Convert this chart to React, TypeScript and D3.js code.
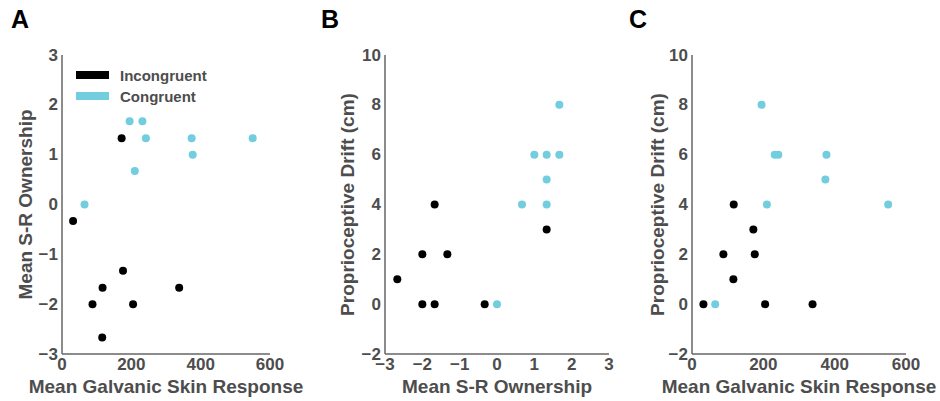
import * as d3 from "d3";

// one entry per participant, same order in every array
const incGsr = [32, 88, 116, 117, 172, 176, 205, 338];
const incOwn = [-0.33, -2, -2.67, -1.67, 1.33, -1.33, -2, -1.67];
const incDrift = [0, 2, 1, 4, 3, 2, 0, 0];

const conGsr = [65, 195, 210, 232, 242, 374, 377, 550];
const conOwn = [0, 1.67, 0.67, 1.67, 1.33, 1.33, 1.0, 1.33];
const conDrift = [0, 8, 4, 6, 6, 5, 6, 4];

const gsrTicks = [0, 200, 400, 600];
const ownTicks = [-3, -2, -1, 0, 1, 2, 3];
const driftTicks = [-2, 0, 2, 4, 6, 8, 10];

const legendLabels = ["Incongruent", "Congruent"];

const BLACK = "#000000";
const CYAN = "#72cddf";
const GREY = "#4d4d4d";
const FONT = "'Liberation Sans', Arial, sans-serif";

const top = 55, bottom = 354;

const fmt = d3.format("d");

const Panel = ({ letter, letterX, x0, x1, xDomain, yDomain, xTicks, yTicks, xLabel, yLabel, yLabelX, incX, incY, conX, conY, legend }) => {
  const x = d3.scaleLinear().domain(xDomain).range([x0, x1]);
  const y = d3.scaleLinear().domain(yDomain).range([bottom, top]);
  return (
    <g>
      <text x={letterX} y={28} fontSize={25} fontWeight="bold" fontFamily={FONT} fill="#000">{letter}</text>
      <line x1={x0} x2={x0} y1={top} y2={bottom} stroke="#666" strokeWidth={1.5} />
      <line x1={x0} x2={x1} y1={bottom} y2={bottom} stroke="#666" strokeWidth={1.5} />
      {yTicks.map((t) => (
        <text key={"y" + t} x={x0 - 4} y={y(t)} textAnchor="end" dominantBaseline="central"
          fontSize={17} fontWeight="bold" fontFamily={FONT} fill={GREY}>{fmt(t)}</text>
      ))}
      {xTicks.map((t) => (
        <text key={"x" + t} x={x(t)} y={370} textAnchor="middle"
          fontSize={17} fontWeight="bold" fontFamily={FONT} fill={GREY}>{fmt(t)}</text>
      ))}
      <text x={(x0 + x1) / 2} y={393} textAnchor="middle" fontSize={19} fontWeight="bold" fontFamily={FONT} fill={GREY}>{xLabel}</text>
      <text transform={`translate(${yLabelX},${(top + bottom) / 2}) rotate(-90)`} textAnchor="middle" dominantBaseline="central"
        fontSize={19} fontWeight="bold" fontFamily={FONT} fill={GREY}>{yLabel}</text>
      {legend && legendLabels.map((l, i) => (
        <g key={l}>
          <rect x={x0 + 14} y={71 + i * 21} width={33} height={8} fill={i === 0 ? BLACK : CYAN} />
          <text x={x0 + 58} y={75 + i * 21} dominantBaseline="central" fontSize={15} fontWeight="bold" fontFamily={FONT} fill={GREY}>{l}</text>
        </g>
      ))}
      {incX.map((v, i) => (
        <circle key={"i" + i} cx={x(v)} cy={y(incY[i])} r={4} fill={BLACK} />
      ))}
      {conX.map((v, i) => (
        <circle key={"c" + i} cx={x(v)} cy={y(conY[i])} r={4} fill={CYAN} />
      ))}
    </g>
  );
};

export default function App() {
  return (
    <svg width={940} height={401} style={{ position: "absolute", left: 0, top: 0, background: "#fff" }}>
      <Panel letter="A" letterX={11} x0={62} x1={270} xDomain={[0, 600]} yDomain={[-3, 3]}
        xTicks={gsrTicks} yTicks={ownTicks} xLabel="Mean Galvanic Skin Response" yLabel="Mean S-R Ownership" yLabelX={25}
        incX={incGsr} incY={incOwn} conX={conGsr} conY={conOwn} legend />
      <Panel letter="B" letterX={321} x0={385} x1={609} xDomain={[-3, 3]} yDomain={[-2, 10]}
        xTicks={ownTicks} yTicks={driftTicks} xLabel="Mean S-R Ownership" yLabel="Proprioceptive Drift (cm)" yLabelX={347}
        incX={incOwn} incY={incDrift} conX={conOwn} conY={conDrift} />
      <Panel letter="C" letterX={629} x0={692} x1={906} xDomain={[0, 600]} yDomain={[-2, 10]}
        xTicks={gsrTicks} yTicks={driftTicks} xLabel="Mean Galvanic Skin Response" yLabel="Proprioceptive Drift (cm)" yLabelX={657}
        incX={incGsr} incY={incDrift} conX={conGsr} conY={conDrift} />
    </svg>
  );
}
